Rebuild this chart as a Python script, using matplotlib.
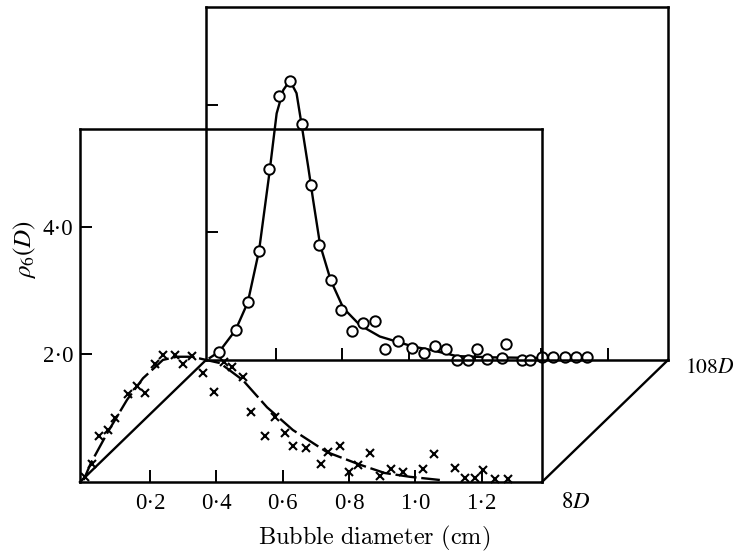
import matplotlib
matplotlib.use('Agg')
import matplotlib.pyplot as plt
from matplotlib.lines import Line2D

# 8D (front panel): crosses + dashed curve
cross_x = [0.005, 0.024, 0.047, 0.074, 0.094, 0.134, 0.162, 0.185, 0.215, 0.240,
           0.275, 0.300, 0.326, 0.361, 0.393, 0.423, 0.446, 0.479, 0.506, 0.547,
           0.577, 0.607, 0.630, 0.670, 0.715, 0.737, 0.773, 0.801, 0.828, 0.863,
           0.895, 0.926, 0.962, 1.024, 1.056, 1.119, 1.150, 1.180, 1.203, 1.240, 1.280]
cross_y = [0.05, 0.26, 0.70, 0.79, 0.98, 1.36, 1.49, 1.37, 1.84, 1.97,
           1.98, 1.84, 1.96, 1.69, 1.39, 1.86, 1.78, 1.63, 1.08, 0.69,
           1.00, 0.75, 0.53, 0.51, 0.26, 0.44, 0.54, 0.12, 0.24, 0.42,
           0.06, 0.17, 0.13, 0.17, 0.41, 0.19, 0.03, 0.03, 0.15, 0.01, 0.01]
fit8_x = [0.0, 0.022, 0.073, 0.131, 0.179, 0.239, 0.281, 0.327, 0.369, 0.411,
          0.480, 0.553, 0.631, 0.734, 0.834, 0.908, 0.984, 1.074]
fit8_y = [0.0, 0.27, 0.76, 1.27, 1.61, 1.90, 1.95, 1.95, 1.90, 1.85,
          1.58, 1.15, 0.79, 0.44, 0.24, 0.11, 0.05, 0.0]

# 108D (back panel): circles + solid curve
circ_x = [0.029, 0.078, 0.115, 0.149, 0.180, 0.208, 0.242, 0.277, 0.307, 0.330,
          0.365, 0.395, 0.428, 0.461, 0.498, 0.528, 0.569, 0.609, 0.646, 0.679,
          0.712, 0.745, 0.780, 0.807, 0.835, 0.880, 0.895, 0.941, 0.966, 1.001,
          1.036, 1.071, 1.106, 1.138]
circ_y = [0.10, 0.44, 0.88, 1.70, 2.99, 4.15, 4.39, 3.70, 2.73, 1.79,
          1.23, 0.76, 0.42, 0.56, 0.59, 0.14, 0.27, 0.16, 0.08, 0.19,
          0.14, -0.03, -0.03, 0.14, -0.02, 0.0, 0.22, -0.03, -0.03, 0.02,
          0.01, 0.01, 0.01, 0.01]
fit108_x = [0.0, 0.029, 0.078, 0.115, 0.149, 0.180, 0.202, 0.222, 0.242, 0.262,
            0.277, 0.297, 0.312, 0.333, 0.365, 0.403, 0.453, 0.513, 0.614, 0.664,
            0.745, 0.85, 1.0]
fit108_y = [0.0, 0.10, 0.44, 0.88, 1.70, 2.92, 3.87, 4.24, 4.39, 4.19,
            3.70, 3.03, 2.50, 1.79, 1.23, 0.79, 0.52, 0.34, 0.18, 0.13,
            0.03, 0.01, 0.0]

xticks = [0.2, 0.4, 0.6, 0.8, 1.0, 1.2]
xtick_labels = ['0·2', '0·4', '0·6', '0·8', '1·0', '1·2']
yticks = [2.0, 4.0]
ytick_labels = ['2·0', '4·0']

W, H = 737, 555


def rect(l, t, r, b):
    return [l / W, 1 - b / H, (r - l) / W, (b - t) / H]


fig = plt.figure(figsize=(W / 100, H / 100), dpi=100)
ax_back = fig.add_axes(rect(206, 7, 668, 360))
ax = fig.add_axes(rect(80, 129, 542, 482))

for a in (ax_back, ax):
    a.set_facecolor('none')
    a.set_xlim(-0.011, 1.382)
    a.set_ylim(-0.032, 5.554)
    a.set_xticks(xticks)
    a.set_yticks(yticks)
    a.tick_params(direction='in', length=8.5, width=1.4, colors='black')
    for s in a.spines.values():
        s.set_linewidth(1.8)

ax_back.set_xticklabels([])
ax_back.set_yticklabels([])
ax.set_xticklabels(xtick_labels, family='Liberation Serif', fontsize=16.5)
ax.set_yticklabels(ytick_labels, family='Liberation Serif', fontsize=16.5)
ax.tick_params(axis='x', pad=8)
ax.tick_params(axis='y', pad=5)

ax_back.plot(fit108_x, fit108_y, color='black', lw=1.7, clip_on=False)
ax_back.plot(circ_x, circ_y, 'o', ms=7.5, mfc='white', mec='black', mew=1.4, clip_on=False)

ax.plot(fit8_x, fit8_y, color='black', lw=1.7, dashes=(9, 2))
ax.plot(cross_x, cross_y, 'x', ms=5.5, color='black', mew=1.5, clip_on=False)

# depth lines joining the two panels
pf = ax.get_position()
pb = ax_back.get_position()
for xf, xb in ((pf.x0, pb.x0), (pf.x1, pb.x1)):
    fig.add_artist(Line2D([xf, xb], [pf.y0, pb.y0], transform=fig.transFigure,
                          color='black', lw=1.7))

ax.set_xlabel(r'$\mathrm{Bubble\ diameter\ (cm)}$', math_fontfamily='cm', fontsize=17.5,
              va='center')
ax.xaxis.set_label_coords((374 - 80) / 462, (482 - 538) / 353)
ax.set_ylabel(r'$\rho_6(D)$', math_fontfamily='stix', fontsize=18, va='center')
ax.yaxis.set_label_coords((25 - 80) / 462, (482 - 250) / 353)

fig.text(576 / W, 1 - 501 / H, r'$8D$', math_fontfamily='stix', fontsize=16.5,
         ha='center', va='center')
fig.text(734 / W, 1 - 367 / H, r'$108D$', math_fontfamily='stix', fontsize=15.5,
         ha='right', va='center')

fig.savefig('out.png', dpi=100)
